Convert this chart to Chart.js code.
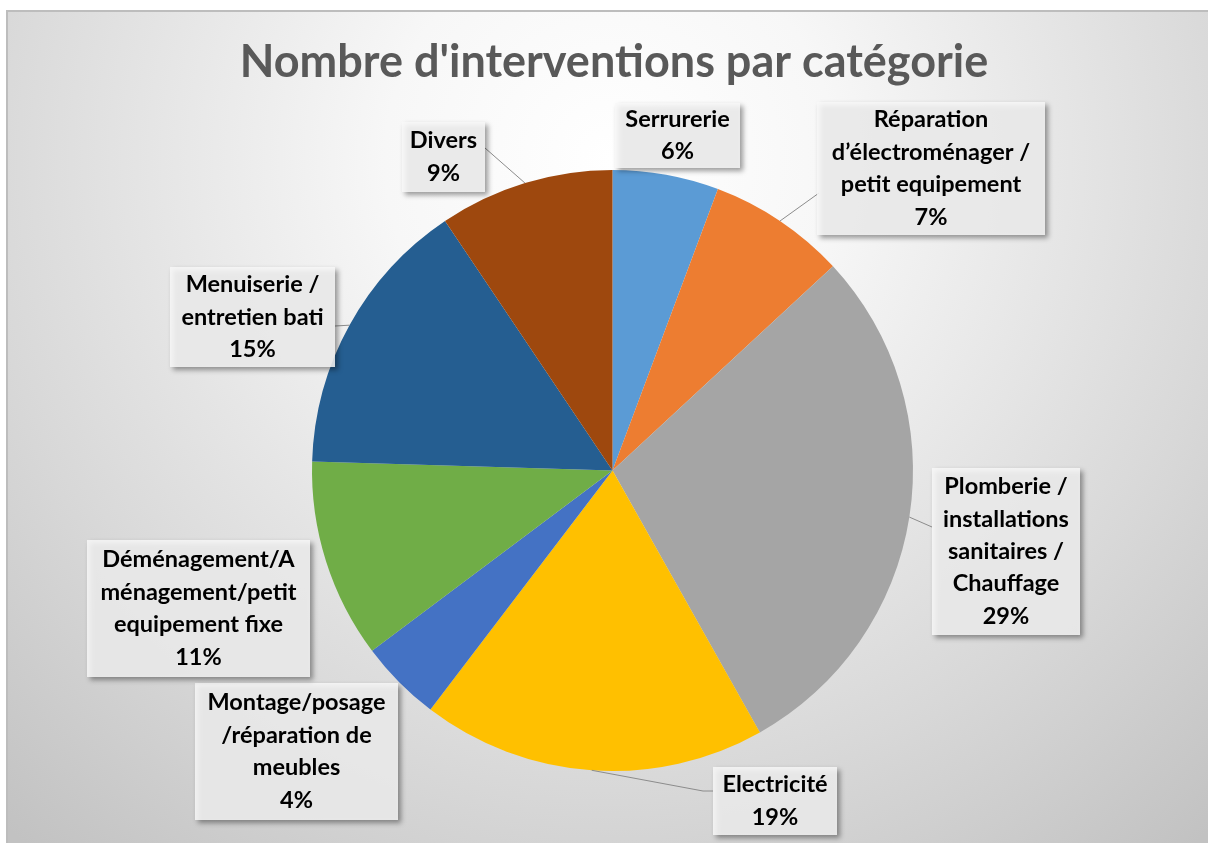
<!DOCTYPE html>
<html><head><meta charset="utf-8">
<script src="https://cdn.jsdelivr.net/npm/chart.js@4"></script>
<style>html,body{margin:0;padding:0;background:#fff;overflow:hidden}canvas{display:block}</style>
</head><body>
<canvas id="c" width="1208" height="843"></canvas>
<script>
const chartTitle = "Nombre d'interventions par catégorie";
const categories = [
  "Serrurerie",
  "Réparation d’électroménager / petit equipement",
  "Plomberie / installations sanitaires / Chauffage",
  "Electricité",
  "Montage/posage /réparation de meubles",
  "Déménagement/Aménagement/petit equipement fixe",
  "Menuiserie / entretien bati",
  "Divers"
];
const labelLines = [
  ["Serrurerie"],
  ["Réparation", "d’électroménager /", "petit equipement"],
  ["Plomberie /", "installations", "sanitaires /", "Chauffage"],
  ["Electricité"],
  ["Montage/posage", "/réparation de", "meubles"],
  ["Déménagement/A", "ménagement/petit", "equipement fixe"],
  ["Menuiserie /", "entretien bati"],
  ["Divers"]
];
const values = [5.7, 7.4, 28.7, 18.5, 4.4, 10.7, 15.1, 9.4];
const colors = ['#5B9BD5', '#ED7D31', '#A5A5A5', '#FFC000', '#4472C4', '#70AD47', '#255E91', '#9E480E'];

// label box layout: [x, y, w, h], leader attach point (or null), optional elbow
const boxLayout = [
  { box: [615, 103, 125, 65], attach: null },
  { box: [817, 102, 228, 133], attach: [819, 193], elbow: null },
  { box: [932, 468, 148, 167], attach: [932, 527], elbow: null },
  { box: [713, 767, 124, 68], attach: [713, 791], elbow: [703, 791] },
  { box: [195, 683, 203, 137], attach: null },
  { box: [87, 540, 223, 137], attach: null },
  { box: [170, 267, 165, 100], attach: [335, 326], elbow: null },
  { box: [402, 122, 83, 70], attach: [485, 148], elbow: null }
];

const LABEL_FONT = 'bold 23.5px Lato';
const LINE_H = 32.4;

const bgPlugin = {
  id: 'bg',
  beforeDraw(chart) {
    const ctx = chart.ctx;
    ctx.save();
    ctx.fillStyle = '#ffffff';
    ctx.fillRect(0, 0, chart.width, chart.height);
    const g = ctx.createRadialGradient(610, 160, 0, 610, 160, 900);
    g.addColorStop(0, '#ffffff');
    g.addColorStop(0.25, '#f7f7f7');
    g.addColorStop(0.7, '#d8d8d8');
    g.addColorStop(1, '#c2c2c2');
    ctx.fillStyle = g;
    ctx.fillRect(7, 10, chart.width - 7, chart.height - 10);
    ctx.strokeStyle = '#bdbdbd';
    ctx.lineWidth = 2;
    ctx.beginPath();
    ctx.moveTo(7, chart.height);
    ctx.lineTo(7, 11);
    ctx.lineTo(chart.width, 11);
    ctx.stroke();
    ctx.restore();
  }
};

const labelPlugin = {
  id: 'labels',
  afterDraw(chart) {
    const ctx = chart.ctx;
    const meta = chart.getDatasetMeta(0);
    const total = values.reduce((a, b) => a + b, 0);
    ctx.save();
    ctx.font = 'bold 45px Lato';
    ctx.fillStyle = '#595959';
    ctx.textAlign = 'center';
    ctx.textBaseline = 'middle';
    ctx.fillText(chartTitle, 614, 62);

    meta.data.forEach((arc, i) => {
      const L = boxLayout[i];
      if (L.attach) {
        const mid = (arc.startAngle + arc.endAngle) / 2;
        const ex = arc.x + Math.cos(mid) * arc.outerRadius;
        const ey = arc.y + Math.sin(mid) * arc.outerRadius;
        ctx.strokeStyle = '#8c8c8c';
        ctx.lineWidth = 1;
        ctx.beginPath();
        ctx.moveTo(ex, ey);
        if (L.elbow) ctx.lineTo(L.elbow[0], L.elbow[1]);
        ctx.lineTo(L.attach[0], L.attach[1]);
        ctx.stroke();
      }
      const [bx, by, bw, bh] = L.box;
      ctx.save();
      ctx.shadowColor = 'rgba(0,0,0,0.45)';
      ctx.shadowBlur = 5;
      ctx.shadowOffsetX = 3;
      ctx.shadowOffsetY = 3;
      ctx.fillStyle = 'rgba(248,248,248,0.85)';
      ctx.fillRect(bx, by, bw, bh);
      ctx.restore();
      const lines = labelLines[i].concat([Math.round(values[i] / total * 100) + '%']);
      ctx.font = LABEL_FONT;
      ctx.fillStyle = '#000000';
      ctx.textAlign = 'center';
      ctx.textBaseline = 'middle';
      const cy = by + bh / 2;
      const startY = cy - (lines.length - 1) * LINE_H / 2;
      lines.forEach((t, k) => ctx.fillText(t, bx + bw / 2, startY + k * LINE_H));
    });
    ctx.restore();
  }
};

new Chart(document.getElementById('c'), {
  type: 'pie',
  data: {
    labels: categories,
    datasets: [{
      data: values,
      backgroundColor: colors,
      borderWidth: 0
    }]
  },
  options: {
    responsive: false,
    animation: false,
    layout: { padding: { top: 170, bottom: 72, left: 312, right: 295 } },
    plugins: {
      legend: { display: false },
      tooltip: { enabled: false },
      title: { display: false }
    }
  },
  plugins: [bgPlugin, labelPlugin]
});
</script>
</body></html>
